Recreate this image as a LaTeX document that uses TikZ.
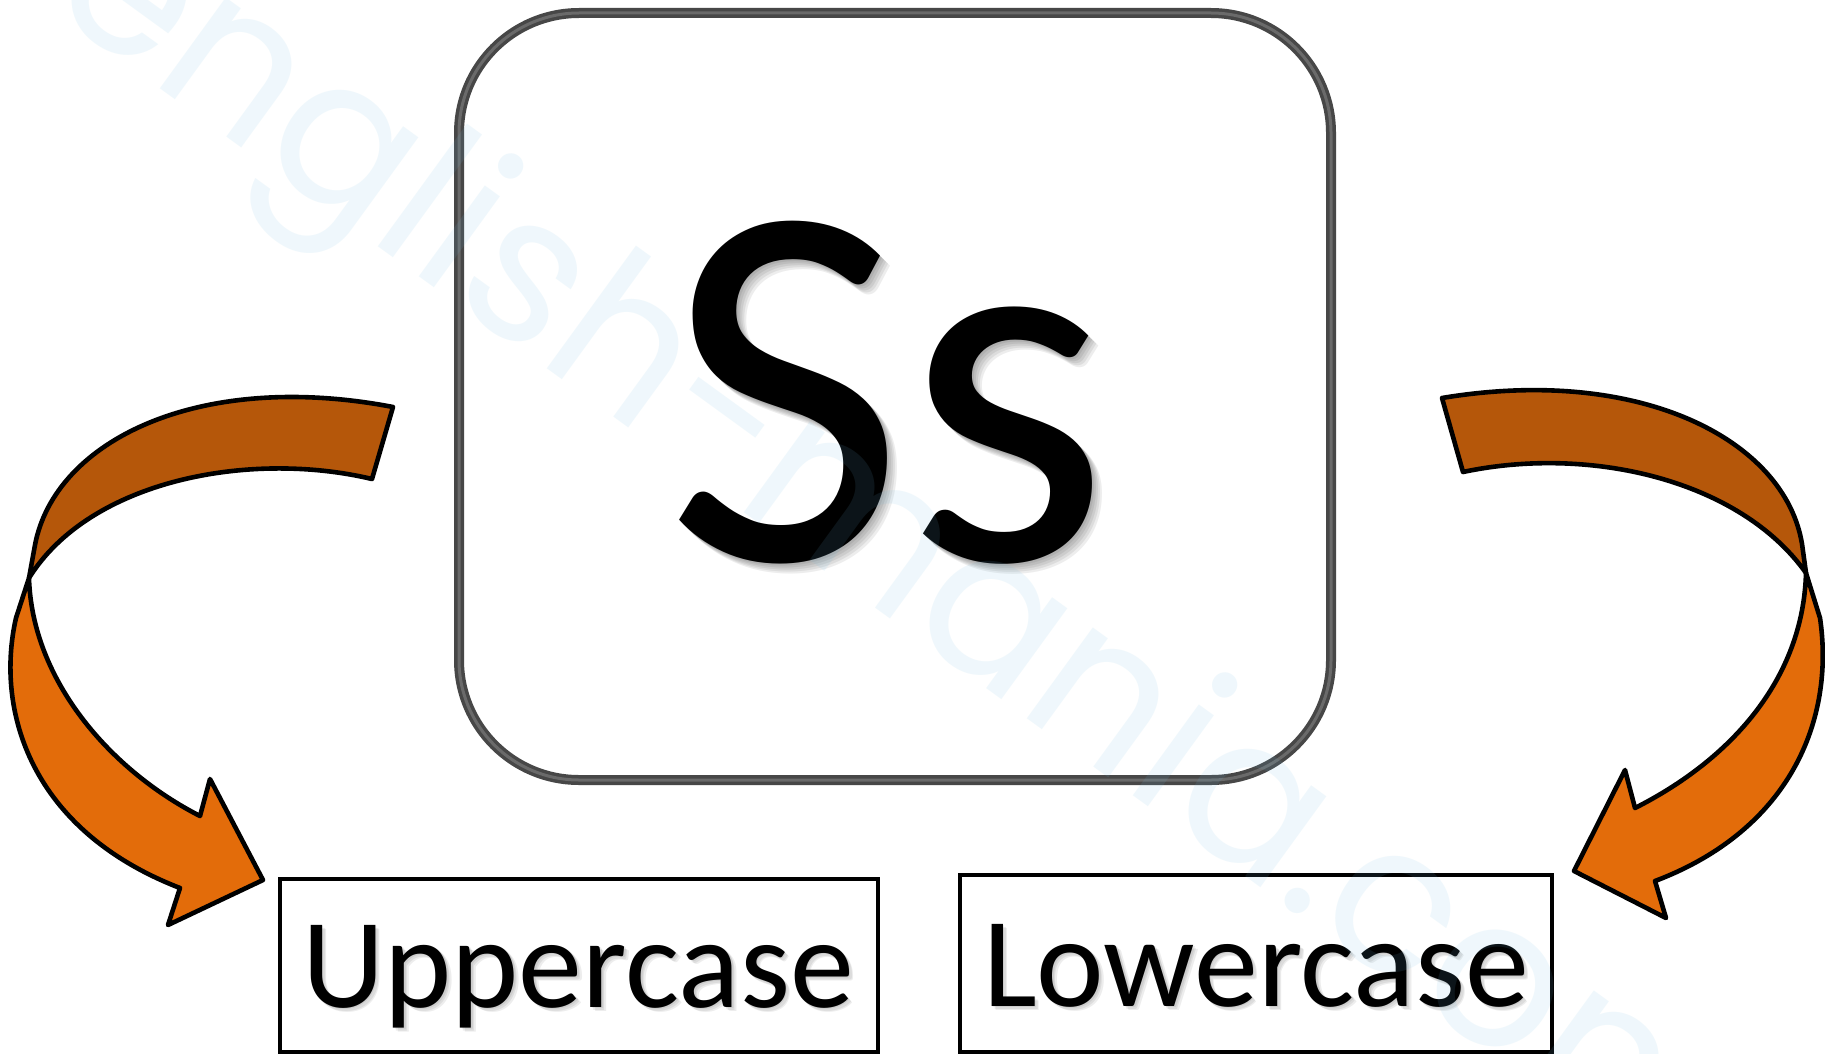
\documentclass[tikz,border=0pt]{standalone}
\usepackage{fontspec}
\setmainfont{Carlito}
\newfontfamily\wmfont{Poppins}
\definecolor{bandtop}{HTML}{B5570A}
\definecolor{bandlow}{HTML}{E36C0A}
\definecolor{framedark}{HTML}{474747}
\definecolor{framelight}{HTML}{6A6A6A}
\definecolor{wmcolor}{rgb}{0.44,0.74,0.9}
\tikzset{
  bandstyle/.style={draw=black, line width=4.6pt, line join=round},
  framestyle/.style={line width=10pt, draw=framedark, rounded corners=120pt},
  framehl/.style={line width=3pt, draw=framelight, rounded corners=120pt},
  labelbox/.style={draw=black, line width=3.8pt, fill=white, inner sep=0pt},
  bigtext/.style={font=\fontsize{523}{600}\selectfont, anchor=base, inner sep=0pt},
  lbltext/.style={font=\fontsize{128}{150}\selectfont, anchor=base, inner sep=0pt},
  shadowtext/.style={text=black, opacity=0.07},
}
\begin{document}
\begin{tikzpicture}[x=1pt,y=-1pt]
\useasboundingbox (0,0) rectangle (1825,1054);
\fill[white] (0,0) rectangle (1825,1054);

% central rounded frame
\draw[framestyle] (459,13) rectangle (1331,780);
\draw[framehl] (459,13) rectangle (1331,780);

% big letters with soft shadow
\foreach \d in {2,4,6,8,10}{
  \node[bigtext, shadowtext] at (888+\d,560+\d) {Ss};
}
\node[bigtext] (ss) at (888,560) {Ss};

% label boxes
\node[labelbox, minimum width=598pt, minimum height=173pt] (upbox) at (579,965.5) {};
\node[labelbox, minimum width=592pt, minimum height=177pt] (lowbox) at (1256,963.5) {};
\foreach \d in {1.5,3,4.5}{
  \node[lbltext, shadowtext] at (578+\d,1007+\d) {Uppercase};
  \node[lbltext, shadowtext] at (1256+\d,1006+\d) {Lowercase};
}
\node[lbltext] (up) at (578,1007) {Uppercase};
\node[lbltext] (low) at (1256,1006) {Lowercase};

% left curved arrow: upper (twisted) band
\filldraw[bandstyle, fill=bandtop]
  (393,407) -- (372,479)
  .. controls (250,450) and (90,480) .. (29,578)
  -- (35,545)
  .. controls (55,440) and (200,370) .. (393,407)
  -- cycle;
% left curved arrow: lower band with head
\filldraw[bandstyle, fill=bandlow]
  (29,578) -- (16,618)
  .. controls (-5,710) and (30,830) .. (180,888)
  -- (168,925) -- (263,880) -- (210,779) -- (200,816)
  .. controls (110,770) and (32,680) .. (29,578)
  -- cycle;

% right curved arrow: upper band
\filldraw[bandstyle, fill=bandtop]
  (1442,398) -- (1463,472)
  .. controls (1590,445) and (1740,480) .. (1806,573)
  -- (1802,544)
  .. controls (1785,440) and (1640,365) .. (1442,398)
  -- cycle;
% right curved arrow: lower band with head
\filldraw[bandstyle, fill=bandlow]
  (1806,573) -- (1820,618)
  .. controls (1835,720) and (1790,830) .. (1655,881)
  -- (1666,918) -- (1574,871) -- (1625,770) -- (1635,808)
  .. controls (1730,760) and (1803,680) .. (1806,573)
  -- cycle;

% faint watermark
\node[rotate=-36, font=\wmfont\fontsize{205}{240}\selectfont, text=wmcolor, opacity=0.11, inner sep=0pt] (wm) at (895,560) {english-mania.com};
\end{tikzpicture}
\end{document}
